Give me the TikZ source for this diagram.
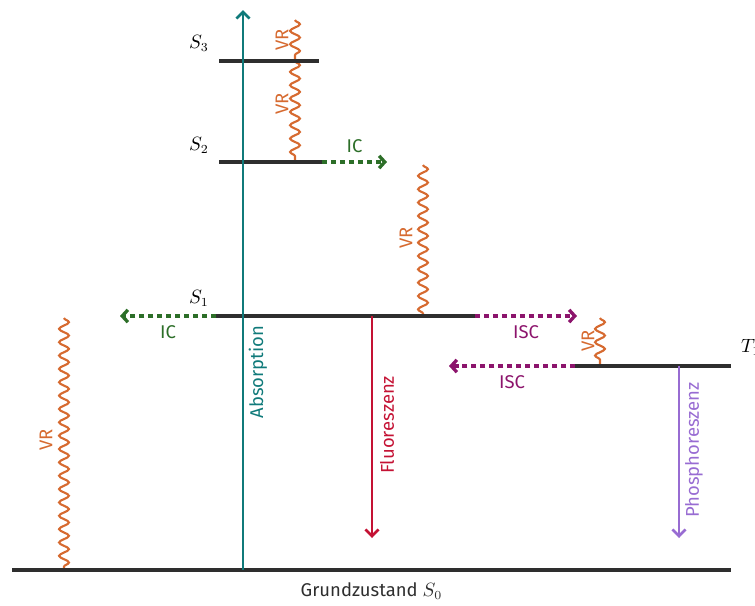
\documentclass[tikz,border=0pt]{standalone}
\usepackage{fontspec}
\setmainfont{Fira Sans}
\usetikzlibrary{arrows.meta,decorations.pathmorphing}

\definecolor{absorbcol}{RGB}{16,122,122}
\definecolor{vrcol}{RGB}{214,106,48}
\definecolor{iccol}{RGB}{44,110,40}
\definecolor{isccol}{RGB}{140,20,108}
\definecolor{fluocol}{RGB}{196,18,52}
\definecolor{phoscol}{RGB}{152,108,210}

\begin{document}
\begin{tikzpicture}[x=0.02cm,y=-0.02cm,font=\fontsize{10.5}{12}\selectfont,
    level/.style={line width=1.8pt,black!82},
    vr/.style={line width=1.2pt,vrcol,decorate,
        decoration={snake,amplitude=2.8pt,segment length=7.6pt}},
    vrlabel/.style={vrcol,rotate=90},
    trans/.style={line width=1.9pt,dash pattern=on 2.9pt off 2.2pt,
        -{Straight Barb[length=3.2pt,width=7pt]}},
    radiat/.style={line width=1.5pt,-{Straight Barb[length=3.8pt,width=7.5pt]}}]
    \clip (0,0) rectangle (755,606);

    \coordinate (S3l) at (219,61);
    \coordinate (S3r) at (319,61);
    \coordinate (S2l) at (219,162);
    \coordinate (S2r) at (322,162);
    \coordinate (S1l) at (216,316);
    \coordinate (S1r) at (475,316);
    \coordinate (T1l) at (575,366);
    \coordinate (T1r) at (731,366);
    \coordinate (S0l) at (12,570);
    \coordinate (S0r) at (731,570);

    \coordinate (IC2) at (387,162);
    \coordinate (IC1) at (120,316);
    \coordinate (ISC1) at (577,316);
    \coordinate (ISC2) at (449,366);

    \coordinate (AbsBot) at (243,570);
    \coordinate (AbsTop) at (243,10);
    \coordinate (FluTop) at (372,316);
    \coordinate (FluBot) at (372,538);
    \coordinate (PhoTop) at (679,366);
    \coordinate (PhoBot) at (679,538);

    \coordinate (VRa) at (295,20);
    \coordinate (VRb) at (295,61);
    \coordinate (VRc) at (295,162);
    \coordinate (VRd) at (423,165);
    \coordinate (VRe) at (423,316);
    \coordinate (VRf) at (600,318);
    \coordinate (VRg) at (600,366);
    \coordinate (VRh) at (64,318);
    \coordinate (VRi) at (64,570);

    % vibrational relaxation
    \draw [vr] (VRa) -- (VRb);
    \draw [vr] (VRb) -- (VRc);
    \draw [vr] (VRd) -- (VRe);
    \draw [vr] (VRf) -- (VRg);
    \draw [vr] (VRh) -- (VRi);
    \node [vrlabel] (vr1) at (282,40) {VR};
    \node [vrlabel] (vr2) at (282,104) {VR};
    \node [vrlabel] (vr3) at (406,238) {VR};
    \node [vrlabel] (vr4) at (588,341) {VR};
    \node [vrlabel] (vr5) at (46,440) {VR};

    % energy levels
    \draw [level] (S3l) -- (S3r);
    \draw [level] (S2l) -- (S2r);
    \draw [level] (S1l) -- (S1r);
    \draw [level] (T1l) -- (T1r);
    \draw [level] (S0l) -- (S0r)
        node [midway,below=3pt] (gs) {Grundzustand $S_0$};
    \node (lS3) at (199,43) {$S_3$};
    \node (lS2) at (199,145) {$S_2$};
    \node (lS1) at (199,298) {$S_1$};
    \node [anchor=west] (lT1) at (735,347) {$T_1$};

    % internal conversion, intersystem crossing
    \draw [trans,iccol] (S2r) -- (IC2)
        node [midway,above=1pt] (ic2) {IC};
    \draw [trans,iccol] (S1l) -- (IC1)
        node [midway,below=1pt] (ic1) {IC};
    \draw [trans,isccol] (S1r) -- (ISC1)
        node [midway,below=1pt] (isc1) {ISC};
    \draw [trans,isccol] (T1l) -- (ISC2)
        node [midway,below=1pt] (isc2) {ISC};

    % absorption and emission
    \draw [radiat,absorbcol] (AbsBot) -- (AbsTop);
    \draw [radiat,fluocol] (FluTop) -- (FluBot);
    \draw [radiat,phoscol] (PhoTop) -- (PhoBot);
    \node [rotate=90,absorbcol] (labs) at (258,372) {Absorption};
    \node [rotate=90,fluocol] (lflu) at (387,425) {Fluoreszenz};
    \node [rotate=90,phoscol] (lpho) at (694,450) {Phosphoreszenz};
\end{tikzpicture}
\end{document}
